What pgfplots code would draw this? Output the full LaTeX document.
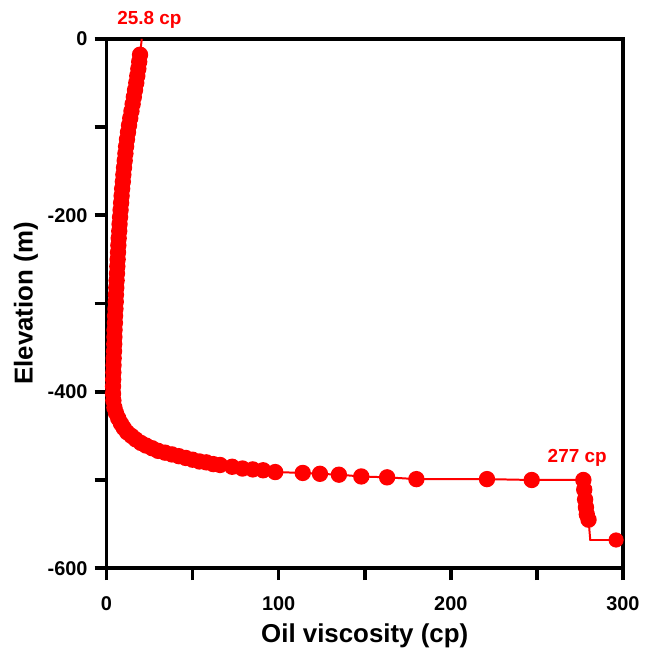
\documentclass[border=0pt]{standalone}
\usepackage{fontspec}
\setmainfont{Liberation Sans}
\usepackage{pgfplots}
\usepackage{pgfplotstable}
\pgfplotsset{compat=1.18}

% viscosity (cp) vs elevation (m)
\pgfplotstableread{
x y
19.5 -18
19.0 -26
18.5 -34
17.9 -42
17.3 -50
16.6 -58
15.9 -66
15.2 -74
14.5 -82
13.8 -90
13.1 -98
12.5 -106
11.9 -114
11.4 -122
11.0 -130
10.6 -138
10.2 -146
9.8 -154
9.5 -162
9.1 -170
8.8 -178
8.5 -186
8.2 -194
7.9 -202
7.6 -210
7.4 -218
7.1 -226
6.9 -234
6.7 -242
6.5 -250
6.3 -258
6.1 -266
5.9 -274
5.7 -282
5.5 -290
5.4 -298
5.2 -306
5.0 -314
4.9 -322
4.7 -330
4.6 -338
4.5 -346
4.4 -354
4.2 -362
4.1 -370
4.0 -378
3.9 -386
3.8 -394
3.8 -402
4.0 -410
4.6 -418
5.5 -424
6.8 -430
8.4 -436
10.0 -441
12.0 -446
14.5 -450
17.0 -454
20.0 -458
23.0 -461
26.5 -464
30.0 -467
34.0 -469
38.0 -471
42.0 -473
46.0 -475
50.0 -477
54.0 -479
58.0 -480
62.0 -482
66.0 -483
73 -485
79 -487
85 -488
91 -489
98 -491
114 -492
124 -493
135 -494
148 -496
163 -497
180 -499
221 -499
247 -500
277 -500
277.5 -511
278 -522
278.5 -531
279 -539
280 -545
}\viscMarks

% extra path points without markers (surface and step corner)
\pgfplotstableread{
x y
20.5 0
19.5 -18
}\viscTop
\pgfplotstableread{
x y
280 -545
281 -568
296 -568
}\viscTail
\pgfplotstableread{
x y
296 -568
}\viscLast

\begin{document}
\begin{tikzpicture}
\begin{axis}[
  width=259.5pt, height=266pt, scale only axis,
  xmin=0, xmax=300, ymin=-600, ymax=0,
  xtick={0,100,200,300}, ytick={-600,-400,-200,0},
  minor x tick num=1, minor y tick num=1,
  tick pos=left, tick align=outside,
  major tick length=6pt, minor tick length=6pt,
  tick style={black, line width=1.8pt},
  axis line style={line width=1.8pt},
  /pgf/number format/assume math mode=true,
  ticklabel style={font=\fontsize{10}{12}\selectfont\bfseries},
  xticklabel style={yshift=-4.5pt},
  label style={font=\fontsize{13}{15}\selectfont\bfseries, inner sep=0pt},
  xlabel={Oil viscosity (cp)},
  ylabel={Elevation (m)},
  xlabel style={yshift=-3.3pt},
  ylabel shift=1.3pt,
  clip=false,
]
\addplot[red, line width=1pt] table[x=x, y=y] {\viscTop};
\addplot[red, line width=1pt] table[x=x, y=y] {\viscTail};
\addplot[red, line width=1pt, mark=*, mark size=3.6pt,
  mark options={fill=red, draw=red}] table[x=x, y=y] {\viscMarks};
\addplot[red, only marks, mark=*, mark size=3.6pt,
  mark options={fill=red, draw=red}] table[x=x, y=y] {\viscLast};
\node[red, font=\fontsize{9.5}{11}\selectfont\bfseries, anchor=center]
  at (axis cs:24.9,21.5) {25.8 cp};
\node[red, font=\fontsize{9.5}{11}\selectfont\bfseries, anchor=center]
  at (axis cs:273.4,-474.6) {277 cp};
\end{axis}
\path (current axis.south west) ++(-53.5pt,-38.5pt)
  rectangle ([shift={(9.5pt,19.5pt)}]current axis.north east);
\end{tikzpicture}
\end{document}
